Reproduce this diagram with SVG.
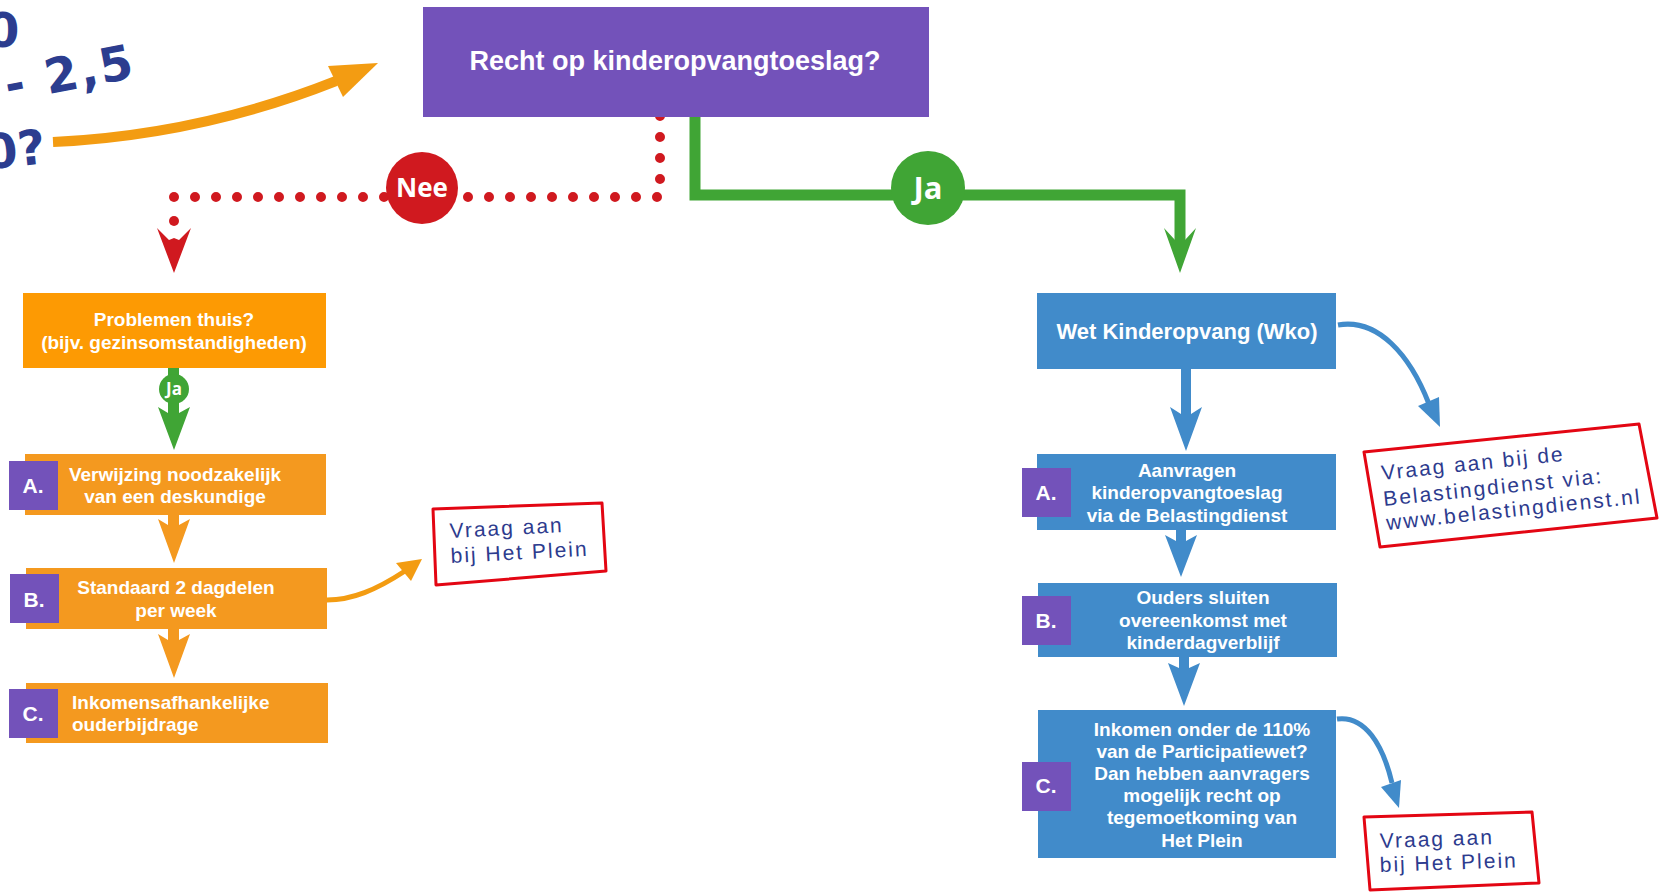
<svg xmlns="http://www.w3.org/2000/svg" width="1673" height="894" viewBox="0 0 1673 894">
<style>
.lbl{font-family:"Liberation Sans",Arial,sans-serif;font-weight:bold;fill:#fff;text-anchor:middle}
.badge{fill:#7352BA}
.badgeT{font-family:"Liberation Sans",Arial,sans-serif;font-weight:bold;fill:#fff;text-anchor:middle;font-size:21px}
.org1{fill:#FD9A03}
.org2{fill:#F4991F}
.blue{fill:#418BCA}
.note{fill:#fff;stroke:#E30613;stroke-width:3;stroke-linejoin:round}
.hand{font-family:"Liberation Sans",Arial,sans-serif;fill:#2D3B8E;font-size:21px;letter-spacing:2px}
.big{font-family:"DejaVu Sans",sans-serif;font-weight:bold;fill:#2C3D8F;font-size:48px}
.pill{font-family:"Open Sans","Noto Sans",sans-serif;font-weight:bold;fill:#fff;text-anchor:middle}
.dot{fill:#D0191F}
</style>

<g id="handwriting">
<text class="big" x="-14" y="47">0</text>
<text class="big" transform="rotate(-11 8 102)" x="8" y="102" letter-spacing="2">- 2,5</text>
<text class="big" transform="rotate(-6 0 168)" x="-14" y="168">0?</text>
</g>

<g id="connectors">
<!-- top orange arrow -->
<path d="M53 142 Q200 135 336 81" fill="none" stroke="#F39C12" stroke-width="10"/>
<polygon points="328,66 378,63 343,97" fill="#F39C12"/>
<!-- red dotted Nee -->
<path d="M660 116 V197 H174" fill="none" stroke="#D0191F" stroke-width="10" stroke-linecap="round" pathLength="27" stroke-dasharray="0 1"/>
<circle class="dot" cx="174" cy="197" r="5"/>
<circle class="dot" cx="174" cy="221" r="5"/>
<polygon points="157,228 169,240 174,238 179,240 191,228 174,273" fill="#D0191F"/>
<!-- green Ja -->
<path d="M695 116 V195 H1180 V241" fill="none" stroke="#40A535" stroke-width="11"/>
<polygon points="1164,228 1175,240 1185,240 1196,228 1180,273" fill="#40A535"/>
<!-- small green Ja -->
<rect x="168" y="368" width="11" height="46" fill="#40A535"/>
<polygon points="158,407 168,413 179,413 190,407 174,450" fill="#40A535"/>
<!-- orange A->B, B->C -->
<polygon points="168,515 179,515 179,525 190,519 174,563 158,519 168,525" fill="#F4991F"/>
<polygon points="168,629 179,629 179,640 190,634 174,678 158,634 168,640" fill="#F4991F"/>
<!-- orange B -> note -->
<path d="M327 600 C352 600 376 590 405 571" fill="none" stroke="#F39C12" stroke-width="5"/>
<polygon points="396,563 422,559 411,581" fill="#F39C12"/>
<!-- blue arrows -->
<polygon points="1181,369 1191,369 1191,414 1202,407 1186,451 1170,407 1181,414" fill="#418BCA"/>
<polygon points="1176,530 1186,530 1186,541 1197,535 1181,577 1165,535 1176,541" fill="#418BCA"/>
<polygon points="1179,657 1189,657 1189,668 1200,663 1184,706 1168,663 1179,668" fill="#418BCA"/>
<!-- blue curves -->
<path d="M1338 325 C1378 318 1410 355 1429 404" fill="none" stroke="#418BCA" stroke-width="5"/>
<polygon points="1418,406 1440,427 1439,397" fill="#418BCA"/>
<path d="M1337 719 C1365 715 1383 745 1392 783" fill="none" stroke="#418BCA" stroke-width="5"/>
<polygon points="1381,787 1399,808 1401,780" fill="#418BCA"/>
</g>

<g id="title">
<rect x="423" y="7" width="506" height="110" fill="#7352BA"/>
<text class="lbl" x="675" y="70" font-size="27">Recht op kinderopvangtoeslag?</text>
</g>

<g id="nee">
<circle cx="422" cy="188" r="36" fill="#D0191F"/>
<text class="pill" x="422" y="197" font-size="26">Nee</text>
</g>

<g id="ja">
<circle cx="928" cy="188" r="37" fill="#40A535"/>
<text class="pill" x="928" y="199" font-size="31">Ja</text>
</g>

<g id="problemen">
<rect class="org1" x="23" y="293" width="303" height="75"/>
<text class="lbl" x="174" y="326" font-size="19">Problemen thuis?</text>
<text class="lbl" x="174" y="349" font-size="19">(bijv. gezinsomstandigheden)</text>
</g>

<g id="ja-small">
<circle cx="174" cy="389" r="15" fill="#40A535"/>
<text class="pill" x="174" y="395" font-size="17">Ja</text>
</g>

<g id="left-a">
<rect class="org2" x="25" y="454" width="301" height="61"/>
<rect class="badge" x="9" y="461" width="49" height="49"/>
<text class="badgeT" x="33" y="493">A.</text>
<text class="lbl" x="175" y="481" font-size="19">Verwijzing noodzakelijk</text>
<text class="lbl" x="175" y="503" font-size="19">van een deskundige</text>
</g>

<g id="left-b">
<rect class="org2" x="26" y="568" width="301" height="61"/>
<rect class="badge" x="10" y="574" width="49" height="49"/>
<text class="badgeT" x="34" y="607">B.</text>
<text class="lbl" x="176" y="594" font-size="19">Standaard 2 dagdelen</text>
<text class="lbl" x="176" y="617" font-size="19">per week</text>
</g>

<g id="left-c">
<rect class="org2" x="26" y="683" width="302" height="60"/>
<rect class="badge" x="9" y="689" width="49" height="49"/>
<text class="badgeT" x="33" y="721">C.</text>
<text class="lbl" x="72" y="709" font-size="19" style="text-anchor:start">Inkomensafhankelijke</text>
<text class="lbl" x="72" y="731" font-size="19" style="text-anchor:start">ouderbijdrage</text>
</g>

<g id="note-left">
<polygon class="note" points="433,509 602,503 606,571 436,585"/>
<text class="hand" transform="rotate(-3 450 538)" x="450" y="538">Vraag aan</text>
<text class="hand" transform="rotate(-3 451 563)" x="451" y="563">bij Het Plein</text>
</g>

<g id="wko">
<rect class="blue" x="1037" y="293" width="299" height="76"/>
<text class="lbl" x="1187" y="339" font-size="22">Wet Kinderopvang (Wko)</text>
</g>

<g id="right-a">
<rect class="blue" x="1037" y="454" width="299" height="76"/>
<rect class="badge" x="1022" y="468" width="49" height="49"/>
<text class="badgeT" x="1046" y="500">A.</text>
<text class="lbl" x="1187" y="477" font-size="19">Aanvragen</text>
<text class="lbl" x="1187" y="499" font-size="19">kinderopvangtoeslag</text>
<text class="lbl" x="1187" y="522" font-size="19">via de Belastingdienst</text>
</g>

<g id="right-b">
<rect class="blue" x="1038" y="583" width="299" height="74"/>
<rect class="badge" x="1022" y="596" width="49" height="49"/>
<text class="badgeT" x="1046" y="628">B.</text>
<text class="lbl" x="1203" y="604" font-size="19">Ouders sluiten</text>
<text class="lbl" x="1203" y="627" font-size="19">overeenkomst met</text>
<text class="lbl" x="1203" y="649" font-size="19">kinderdagverblijf</text>
</g>

<g id="right-c">
<rect class="blue" x="1038" y="710" width="298" height="148"/>
<rect class="badge" x="1022" y="762" width="49" height="49"/>
<text class="badgeT" x="1046" y="793">C.</text>
<text class="lbl" x="1202" y="736" font-size="19">Inkomen onder de 110%</text>
<text class="lbl" x="1202" y="758" font-size="19">van de Participatiewet?</text>
<text class="lbl" x="1202" y="780" font-size="19">Dan hebben aanvragers</text>
<text class="lbl" x="1202" y="802" font-size="19">mogelijk recht op</text>
<text class="lbl" x="1202" y="824" font-size="19">tegemoetkoming van</text>
<text class="lbl" x="1202" y="847" font-size="19">Het Plein</text>
</g>

<g id="note-right-top">
<polygon class="note" points="1364,452 1639,424 1657,518 1380,547"/>
<text class="hand" transform="rotate(-6 1382 480)" x="1382" y="480">Vraag aan bij de</text>
<text class="hand" transform="rotate(-6 1384 506)" x="1384" y="506">Belastingdienst via:</text>
<text class="hand" transform="rotate(-6 1387 530)" x="1387" y="530" letter-spacing="1">www.belastingdienst.nl</text>
</g>

<g id="note-right-bottom">
<polygon class="note" points="1364,817 1532,812 1539,883 1370,890"/>
<text class="hand" transform="rotate(-2 1380 848)" x="1380" y="848">Vraag aan</text>
<text class="hand" transform="rotate(-2 1380 872)" x="1380" y="872">bij Het Plein</text>
</g>
</svg>
